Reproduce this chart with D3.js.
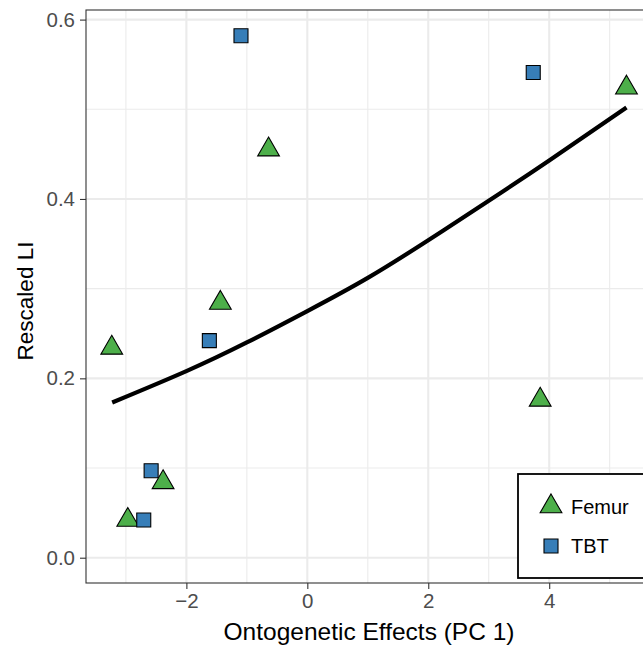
<!DOCTYPE html>
<html>
<head>
<meta charset="utf-8">
<script src="https://cdn.jsdelivr.net/npm/d3@7"></script>
<style>
  body { margin: 0; background: #fff; }
  svg { display: block; font-family: "Liberation Sans", Arial, sans-serif; }
</style>
</head>
<body>
<div id="chart"></div>
<script>
// data
var femurX = [-3.234, -2.969, -2.385, -1.438, -0.641, 3.851, 5.278];
var femurY = [0.234, 0.042, 0.084, 0.284, 0.455, 0.176, 0.524];
var tbtX = [-1.097, -1.620, -2.583, -2.705, 3.736];
var tbtY = [0.582, 0.242, 0.097, 0.042, 0.541];
var fitX = [-3.227, -2, -1, 0, 1, 2, 3, 4, 5.278];
var fitY = [0.173, 0.208, 0.240, 0.275, 0.312, 0.354, 0.398, 0.443, 0.502];
var xTicks = [-2, 0, 2, 4];
var yTicks = [0, 0.2, 0.4, 0.6];
var groups = ["Femur", "TBT"];

function scatterChart() {
  var W = 643, H = 646;
  var left = 86, top = 10, right = 652, bottom = 583;

  var svg = d3.select("#chart").append("svg")
    .attr("width", W)
    .attr("height", H);

  var x = d3.scaleLinear().domain([-3.66, 5.70]).range([left, right]);
  var y = d3.scaleLinear().domain([-0.0282, 0.6107]).range([bottom, top]);

  var color = d3.scaleOrdinal().domain(groups).range(["#4DAF4A", "#377EB8"]);
  var shape = d3.scaleOrdinal().domain(groups).range([d3.symbolTriangle, d3.symbolSquare]);
  var size = d3.scaleOrdinal().domain(groups).range([205, 196]);

  // grid: minor first then major
  var grid = svg.append("g");
  var xMinor = [-3, -1, 1, 3, 5], yMinor = [0.1, 0.3, 0.5];
  grid.selectAll(".xm").data(xMinor).enter().append("line")
    .attr("x1", d => x(d)).attr("x2", d => x(d))
    .attr("y1", top).attr("y2", bottom)
    .attr("stroke", "#EBEBEB").attr("stroke-width", 1.1);
  grid.selectAll(".ym").data(yMinor).enter().append("line")
    .attr("x1", left).attr("x2", right)
    .attr("y1", d => y(d)).attr("y2", d => y(d))
    .attr("stroke", "#EBEBEB").attr("stroke-width", 1.1);
  grid.selectAll(".xM").data(xTicks).enter().append("line")
    .attr("x1", d => x(d)).attr("x2", d => x(d))
    .attr("y1", top).attr("y2", bottom)
    .attr("stroke", "#EBEBEB").attr("stroke-width", 2.1);
  grid.selectAll(".yM").data(yTicks).enter().append("line")
    .attr("x1", left).attr("x2", right)
    .attr("y1", d => y(d)).attr("y2", d => y(d))
    .attr("stroke", "#EBEBEB").attr("stroke-width", 2.1);

  // fitted curve
  var fit = fitX.map((v, i) => ({x: v, y: fitY[i]}));
  svg.append("path")
    .datum(fit)
    .attr("fill", "none")
    .attr("stroke", "#000")
    .attr("stroke-width", 4.2)
    .attr("d", d3.line()
      .x(d => x(d.x))
      .y(d => y(d.y))
      .curve(d3.curveNatural));

  // points
  var pts = femurX.map((v, i) => ({g: "Femur", x: v, y: femurY[i]}))
    .concat(tbtX.map((v, i) => ({g: "TBT", x: v, y: tbtY[i]})));
  svg.selectAll(".pt").data(pts).enter().append("path")
    .attr("transform", d => "translate(" + x(d.x) + "," + y(d.y) + ")")
    .attr("d", d => d3.symbol().type(shape(d.g)).size(size(d.g))())
    .attr("fill", d => color(d.g))
    .attr("stroke", "#000")
    .attr("stroke-width", 1.1);

  // panel border
  svg.append("rect")
    .attr("x", left).attr("y", top)
    .attr("width", right - left).attr("height", bottom - top)
    .attr("fill", "none").attr("stroke", "#333333").attr("stroke-width", 1.1);

  // axes
  var xAxis = svg.append("g")
    .attr("transform", "translate(0," + bottom + ")")
    .call(d3.axisBottom(x).tickValues(xTicks).tickSize(6).tickPadding(4).tickFormat(d3.format("d")));
  var yAxis = svg.append("g")
    .attr("transform", "translate(" + left + ",0)")
    .call(d3.axisLeft(y).tickValues(yTicks).tickSize(6).tickPadding(5).tickFormat(d3.format(".1f")));
  [xAxis, yAxis].forEach(function(a) {
    a.select(".domain").remove();
    a.selectAll(".tick line").attr("stroke", "#333333").attr("stroke-width", 1.1);
    a.selectAll(".tick text").attr("fill", "#4D4D4D").style("font-size", "20.5px")
      .style("font-family", "'Liberation Sans', Arial, sans-serif");
  });

  // axis titles
  svg.append("text")
    .attr("x", (left + right) / 2).attr("y", 640)
    .attr("text-anchor", "middle")
    .style("font-size", "24.5px")
    .text("Ontogenetic Effects (PC 1)");
  svg.append("text")
    .attr("transform", "translate(33,301) rotate(-90)")
    .attr("text-anchor", "middle")
    .style("font-size", "22.5px")
    .text("Rescaled LI");

  // legend
  var lg = svg.append("g");
  lg.append("rect")
    .attr("x", 518).attr("y", 474)
    .attr("width", 140).attr("height", 104)
    .attr("fill", "#fff").attr("stroke", "#000").attr("stroke-width", 1.8);
  var rowY = [506.5, 546];
  groups.forEach(function(g, i) {
    lg.append("path")
      .attr("transform", "translate(551," + rowY[i] + ")")
      .attr("d", d3.symbol().type(shape(g)).size(size(g))())
      .attr("fill", color(g)).attr("stroke", "#000").attr("stroke-width", 1.1);
    lg.append("text")
      .attr("x", 571).attr("y", rowY[i] + 7)
      .style("font-size", "20px")
      .text(g);
  });
}
scatterChart();
</script>
</body>
</html>
